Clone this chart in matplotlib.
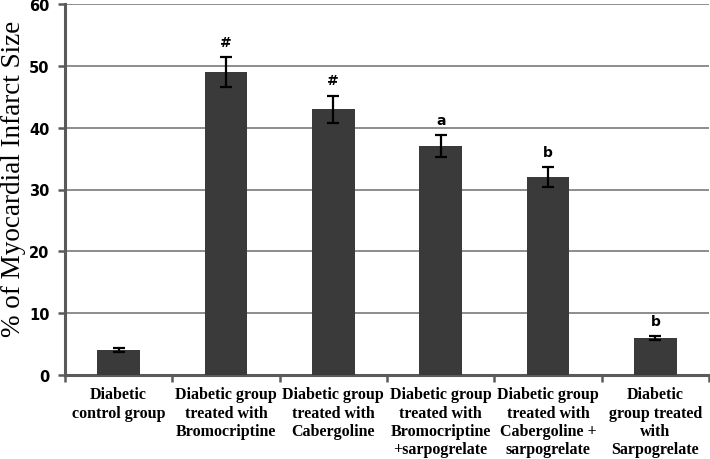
import matplotlib
matplotlib.use("Agg")
import matplotlib.pyplot as plt
import numpy as np

# ── Data ─────────────────────────────────────────────────────────────────────
GROUPS = [
    "Diabetic\ncontrol group",
    "Diabetic group\ntreated with\nBromocriptine",
    "Diabetic group\ntreated with\nCabergoline",
    "Diabetic group\ntreated with\nBromocriptine\n+sarpogrelate",
    "Diabetic group\ntreated with\nCabergoline +\nsarpogrelate",
    "Diabetic\ngroup treated\nwith\nSarpogrelate",
]
VALUES = [4.0, 49.0, 43.0, 37.0, 32.0, 6.0]
ERRORS = [0.3, 2.5, 2.2, 1.8, 1.6, 0.3]
MARKS = ["", "#", "#", "a", "b", "b"]

BAR = "#3a3a3a"
GRID = "#8c8c8c"
SPINE = "#5a5a5a"


def plot(out_path="out.png"):
    fig = plt.figure(figsize=(7.1, 4.6), dpi=100)
    ax = fig.add_axes([65 / 710, 84 / 460, 644 / 710, 371 / 460])

    x = np.arange(len(GROUPS))
    ax.bar(x, VALUES, width=0.4, color=BAR, zorder=3)
    ax.errorbar(x, VALUES, yerr=ERRORS, fmt="none", ecolor="black",
                elinewidth=1.6, capsize=4.5, capthick=1.6, zorder=4)

    for xi, v, e, m in zip(x, VALUES, ERRORS, MARKS):
        if m:
            ax.text(xi, v + e + 1.3, m, ha="center", va="bottom",
                    fontsize=10, fontweight="bold", family="DejaVu Sans")

    ax.set_xlim(-0.5, len(GROUPS) - 0.5)
    ax.set_ylim(0, 60)
    ax.set_yticks(np.arange(0, 61, 10))
    ax.yaxis.grid(True, color=GRID, lw=1.4, zorder=0)
    ax.set_axisbelow(True)

    # category boundaries as tick marks, labels at centres
    ax.set_xticks(np.arange(-0.5, len(GROUPS), 1.0))
    ax.set_xticklabels([])
    ax.set_xticks(x, minor=True)
    ax.set_xticklabels(GROUPS, minor=True, fontsize=11.5, fontweight="bold",
                       family="Liberation Serif", linespacing=1.2)
    ax.tick_params(axis="x", which="minor", length=0, pad=8)
    ax.tick_params(axis="x", which="major", length=5, width=1.8,
                   color=SPINE, direction="out")
    ax.tick_params(axis="y", length=5, width=1.8, color=SPINE,
                   labelsize=10.5, pad=6)
    for lab in ax.get_yticklabels():
        lab.set_fontweight("bold")

    for side in ("top", "right"):
        ax.spines[side].set_visible(False)
    for side in ("left", "bottom"):
        ax.spines[side].set_color(SPINE)
        ax.spines[side].set_linewidth(2.2)

    fig.text(14 / 710, 1 - 179 / 460, "% of Myocardial Infarct Size",
             rotation=90, ha="center", va="center", fontsize=19.5,
             family="Liberation Serif")

    fig.savefig(out_path, dpi=100)


if __name__ == "__main__":
    plot()
